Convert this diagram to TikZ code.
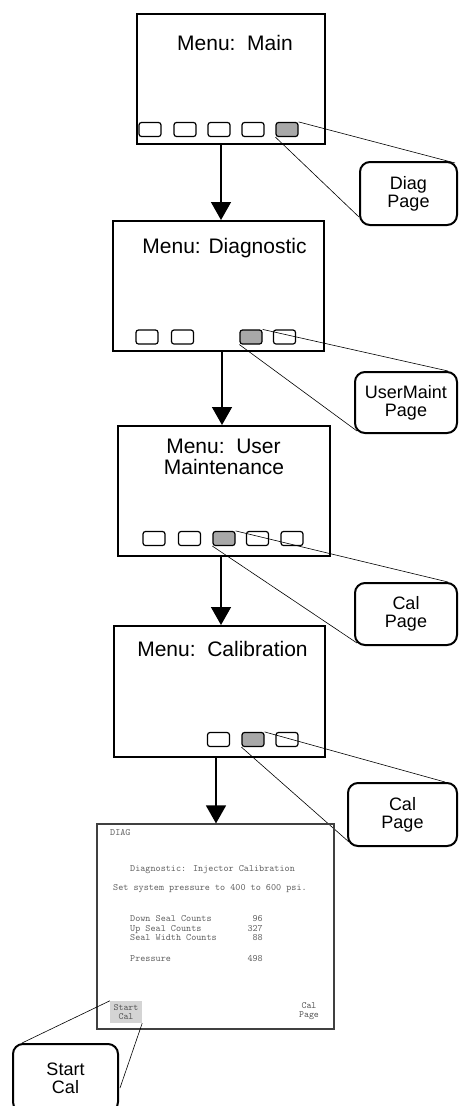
\documentclass[tikz,border=0pt]{standalone}
\usepackage{fontspec}
\setmainfont{Liberation Sans}
\usetikzlibrary{arrows.meta,calc}
\definecolor{selgray}{HTML}{A8A8A8}
\definecolor{hlgray}{HTML}{D4D4D4}
\begin{document}
\begin{tikzpicture}[x=1pt,y=-1pt,
  screenbox/.style={draw,line width=2pt,inner sep=0pt},
  btn/.style={draw,line width=1.2pt,rounded corners=2.5pt,minimum width=22pt,minimum height=14pt,inner sep=0pt},
  selbtn/.style={btn,fill=selgray},
  callout/.style={draw,line width=2pt,rounded corners=10pt,align=center,font=\fontsize{18}{18}\selectfont,inner sep=0pt},
  title/.style={anchor=base,font=\fontsize{21}{21}\selectfont,inner sep=0pt},
  flow/.style={line width=1.5pt,-{Triangle[width=20pt,length=18pt]}},
  leader/.style={line width=0.6pt},
  lcd/.style={anchor=base west,font=\ttfamily\fontsize{9.7}{10}\selectfont,text=black!62,inner sep=0pt},
  lcdnum/.style={lcd,anchor=base east},
  softkey/.style={align=center,font=\ttfamily\fontsize{9.5}{9.5}\selectfont,text=black!68,inner sep=0pt,minimum width=32pt,minimum height=22pt}
]
\useasboundingbox (0,0) rectangle (458,1106);
\clip (0,0) rectangle (458,1106);

% ---- Menu: Main
\node[screenbox,minimum width=188pt,minimum height=130pt] (main) at (231,79) {};
\node[title] (tmain) at (235,50) {Menu:\ \ Main};
\node[btn] (m1) at (150,129.5) {};
\node[btn] (m2) at (185,129.5) {};
\node[btn] (m3) at (219,129.5) {};
\node[btn] (m4) at (253,129.5) {};
\node[selbtn] (m5) at (287,129.5) {};
\node[callout,minimum width=97pt,minimum height=63pt] (c1) at (408.5,193.5) {Diag\\Page};
\draw[leader] (m5.north east) -- ($(c1.north east)+(-3,2)$);
\draw[leader] (m5.south west) -- ($(c1.south west)+(0,-9)$);

% ---- Menu: Diagnostic
\node[screenbox,minimum width=211pt,minimum height=130pt] (diag) at (218.5,286) {};
\node[title] (tdiag) at (224.5,253) {Menu: Diagnostic};
\node[btn] (d1) at (147,337) {};
\node[btn] (d2) at (182.5,337) {};
\node[selbtn] (d3) at (251,337) {};
\node[btn] (d4) at (284.5,337) {};
\node[callout,minimum width=102pt,minimum height=61pt] (c2) at (406,402.5) {UserMaint\\Page};
\draw[leader] (d3.north east) -- ($(c2.north east)+(-10,0)$);
\draw[leader] (d3.south west) -- ($(c2.south west)+(3,-3)$);

% ---- Menu: User Maintenance
\node[screenbox,minimum width=212pt,minimum height=130pt] (umaint) at (224,491) {};
\node[title] (tum1) at (223.5,453) {Menu:\ \ User};
\node[title] (tum2) at (224,474) {Maintenance};
\node[btn] (u1) at (154,538.5) {};
\node[btn] (u2) at (189.5,538.5) {};
\node[selbtn] (u3) at (224,538.5) {};
\node[btn] (u4) at (257.5,538.5) {};
\node[btn] (u5) at (292,538.5) {};
\node[callout,minimum width=102pt,minimum height=62pt] (c3) at (406,614) {Cal\\Page};
\draw[leader] (u3.north east) -- ($(c3.north east)+(-10,0)$);
\draw[leader] (u3.south west) -- ($(c3.south west)+(3,-3)$);

% ---- Menu: Calibration
\node[screenbox,minimum width=211pt,minimum height=131pt] (calib) at (219.5,691.5) {};
\node[title] (tcal) at (222.5,656) {Menu:\ \ Calibration};
\node[btn] (k1) at (218.5,739.5) {};
\node[selbtn] (k2) at (253,739.5) {};
\node[btn] (k3) at (287,739.5) {};
\node[callout,minimum width=109pt,minimum height=63pt] (c4) at (402.5,814.5) {Cal\\Page};
\draw[leader] (k2.north east) -- ($(c4.north east)+(-13,0)$);
\draw[leader] (k2.south west) -- ($(c4.south west)+(2,-5)$);

% ---- LCD screen
\node[draw=black!75,line width=1.2pt,minimum width=237pt,minimum height=205pt,inner sep=0pt] (lcd) at (215.5,926.5) {};
\node[lcd] (l0) at (110,835) {DIAG};
\node[lcd] (l1) at (130,871.5) {Diagnostic: Injector Calibration};
\node[lcd] (l2) at (113,890.5) {Set system pressure to 400 to 600 psi.};
\node[lcd] (l3) at (130,921.5) {Down Seal Counts};
\node[lcd] (l4) at (130,931.5) {Up Seal Counts};
\node[lcd] (l5) at (130,940.5) {Seal Width Counts};
\node[lcd] (l6) at (130,961.5) {Pressure};
\node[lcdnum] (n3) at (263,921.5) {96};
\node[lcdnum] (n4) at (263,931.5) {327};
\node[lcdnum] (n5) at (263,940.5) {88};
\node[lcdnum] (n6) at (263,961.5) {498};
\node[softkey,fill=hlgray] (sc) at (126,1012) {Start\\Cal};
\node[softkey] (cp) at (309,1011) {Cal\\Page};
\node[callout,minimum width=105pt,minimum height=68pt] (c5) at (65.5,1078) {Start\\Cal};
\draw[leader] (sc.north west) -- ($(c5.north west)+(10,0)$);
\draw[leader] (sc.south east) -- ($(c5.east)+(1,10)$);

% ---- flow arrows
\coordinate (ax1) at (221,0);
\coordinate (ax2) at (222,0);
\coordinate (ax3) at (221,0);
\coordinate (ax4) at (216,0);
\draw[flow] (ax1 |- main.south) -- (ax1 |- diag.north);
\draw[flow] (ax2 |- diag.south) -- (ax2 |- umaint.north);
\draw[flow] (ax3 |- umaint.south) -- (ax3 |- calib.north);
\draw[flow] (ax4 |- calib.south) -- (ax4 |- lcd.north);
\end{tikzpicture}
\end{document}
